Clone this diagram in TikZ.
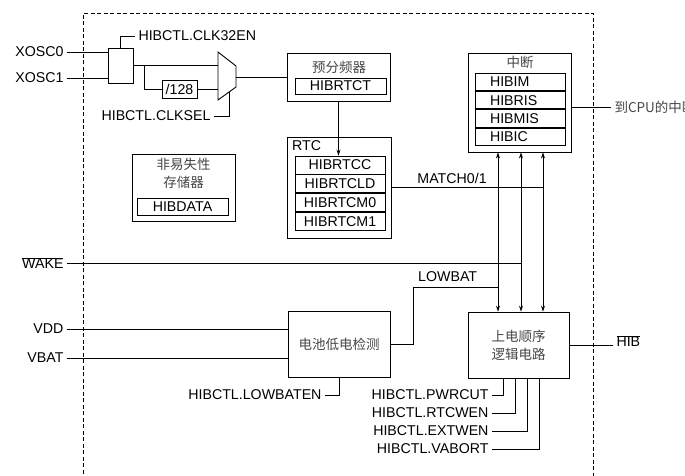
\documentclass[tikz,border=0pt]{standalone}
\usepackage{fontspec}
\setmainfont{Liberation Sans}
\newfontfamily\cjk{Noto Sans CJK SC}
\usetikzlibrary{positioning,arrows.meta,calc}
\definecolor{ZH}{RGB}{70,70,70}

\tikzset{
  blk/.style={draw, line width=0.9pt, inner sep=0pt},
  reg/.style={draw, line width=0.9pt, minimum width=90pt, minimum height=18pt, inner sep=0pt},
  wire/.style={line width=0.8pt},
  arr/.style={line width=0.8pt, -{Stealth[length=6pt, width=4pt]}},
  zh/.style={font=\cjk\fontsize{13.5}{18}\selectfont, text=ZH}
}

\begin{document}
\begin{tikzpicture}[x=1pt, y=-1pt, font=\fontsize{14.2}{16}\selectfont]
  \clip (0,0) rectangle (685,475);
  % module border
  \draw[line width=0.9pt, dash pattern=on 4pt off 2.5pt] (83,480) -- (83,13) -- (593,13) -- (593,480);

  % clock sources
  \node[blk, minimum width=25pt, minimum height=35pt] (gate) at (120.5,65.5) {};
  \node[anchor=east] (xosc0) at (67,52) {XOSC0};
  \node[anchor=east] (xosc1) at (67,78) {XOSC1};
  \draw[wire] (xosc0.east) -- (xosc0.east -| gate.west);
  \draw[wire] (xosc1.east) -- (xosc1.east -| gate.west);
  \node[anchor=west] (clken) at (135,36) {HIBCTL.CLK32EN};
  \draw[wire] (gate.north) |- (clken.west);

  % clock select mux
  \coordinate (mux-tl) at (218,52);
  \coordinate (mux-bl) at (218,100);
  \coordinate (mux-tr) at (236,66);
  \coordinate (mux-br) at (236,87);
  \coordinate (mux-a) at (218,65.5);
  \coordinate (mux-b) at (218,89);
  \coordinate (mux-o) at (236,77);
  \coordinate (mux-s) at (229,92);
  \draw[line width=0.9pt] (mux-tl) -- (mux-tr) -- (mux-br) -- (mux-bl) -- cycle;
  \node[blk, minimum width=35pt, minimum height=18pt] (div) at (179.5,89) {/128};
  \coordinate (split) at (144,65.5);
  \draw[wire] (gate.east) -- (mux-a);
  \draw[wire] (split) |- (div.west);
  \draw[wire] (div.east) -- (mux-b);
  \node[anchor=east] (clksel) at (214,116) {HIBCTL.CLKSEL};
  \draw[wire] (mux-s) |- (clksel.east);

  % prescaler
  \node[blk, minimum width=103pt, minimum height=48pt] (pre) at (338.5,77) {};
  \node[zh] (pretitle) at (339,67) {预分频器};
  \node[reg, minimum width=91pt, minimum height=16pt] (rtct) at (340.5,86) {HIBRTCT};
  \draw[wire] (mux-o) -- (mux-o -| pre.west);

  % RTC
  \node[blk, minimum width=104pt, minimum height=101pt] (rtc) at (339,187.5) {};
  \node[anchor=west, inner sep=0pt] (rtctitle) at (292,146) {RTC};
  \node[reg] (rtcc) at (340,165) {HIBRTCC};
  \node[reg, below=0pt of rtcc] (rtcld) {HIBRTCLD};
  \node[reg, below=0pt of rtcld] (rtcm0) {HIBRTCM0};
  \node[reg, below=0pt of rtcm0] (rtcm1) {HIBRTCM1};
  \draw[arr] (pre.south) -- (pre.south |- rtcc.north);

  % non-volatile memory
  \node[blk, minimum width=103pt, minimum height=67pt] (nvm) at (183.5,187.5) {};
  \node[zh, align=center] (nvmtitle) at (183.5,173.5) {非易失性\\存储器};
  \node[reg, minimum width=91pt, minimum height=17pt] (hibdata) at (182.5,206.5) {HIBDATA};

  % interrupt
  \node[blk, minimum width=103pt, minimum height=99pt] (int) at (519.5,102.5) {};
  \node[zh] (inttitle) at (520,62) {中断};
  \node[reg, minimum height=17.5pt, text width=60pt, inner xsep=15pt, align=left] (him) at (520,81.75) {HIBIM};
  \node[reg, minimum height=17.5pt, text width=60pt, inner xsep=15pt, align=left, below=0pt of him] (hris) {HIBRIS};
  \node[reg, minimum height=17.5pt, text width=60pt, inner xsep=15pt, align=left, below=0pt of hris] (hmis) {HIBMIS};
  \node[reg, minimum height=17.5pt, text width=60pt, inner xsep=15pt, align=left, below=0pt of hmis] (hic) {HIBIC};
  \coordinate (irq) at ($(int.east)+(0,4.5)$);
  \node[zh, anchor=west] (cpu) at (611,107) {到CPU的中断};
  \draw[wire] (irq) -- (irq -| cpu.west);

  % battery check
  \node[blk, minimum width=102pt, minimum height=66pt] (bat) at (339,344) {};
  \node[zh] (battitle) at (bat) {电池低电检测};
  \node[anchor=east] (vdd) at (67,329) {VDD};
  \node[anchor=east] (vbat) at (67,358) {VBAT};
  \draw[wire] (vdd.east) -- (vdd.east -| bat.west);
  \draw[wire] (vbat.east) -- (vbat.east -| bat.west);
  \node[anchor=east] (lowbaten) at (325,395) {HIBCTL.LOWBATEN};
  \draw[wire] (bat.south) |- (lowbaten.east);

  % power sequencing
  \node[blk, minimum width=101pt, minimum height=66pt] (pwr) at (518.5,345) {};
  \node[zh, align=center] (pwrtitle) at (pwr) {上电顺序\\逻辑电路};
  \node[anchor=west] (hib) at (613,341) {$\overline{\hbox{HIB}}$};
  \draw[wire] (pwr.east) -- (pwr.east -| hib.west);

  % event buses
  \coordinate (m1) at (498,230);
  \coordinate (m2) at (521,230);
  \coordinate (m3) at (543,230);
  \foreach \m in {m1,m2,m3}
    \draw[line width=0.8pt, {Stealth[length=6pt, width=4pt]}-{Stealth[length=6pt, width=4pt]}] (int.south -| \m) -- (pwr.north -| \m);
  \draw[wire] (rtc.east) -- node[above, pos=0.4] {MATCH0/1} (rtc.east -| m3);
  \node[anchor=east] (wake) at (67,263) {$\overline{\hbox{WAKE}}$};
  \draw[wire] (wake.east) -- (wake.east -| m2);
  \coordinate (lb) at (413,287);
  \draw[wire] (bat.east) -| (lb) -- (lb -| m1);
  \node[above right, inner sep=2pt] (lowbat) at ($(lb)+(3,-3)$) {LOWBAT};

  % control bits
  \foreach \nm/\dx/\yy in {PWRCUT/36/395, RTCWEN/48/413, EXTWEN/60/431, VABORT/72/449} {
    \node[anchor=east] (c\nm) at (492,\yy) {HIBCTL.\nm};
    \draw[wire] ($(pwr.south west)+(\dx,0)$) |- (c\nm.east);
  }
\end{tikzpicture}
\end{document}
